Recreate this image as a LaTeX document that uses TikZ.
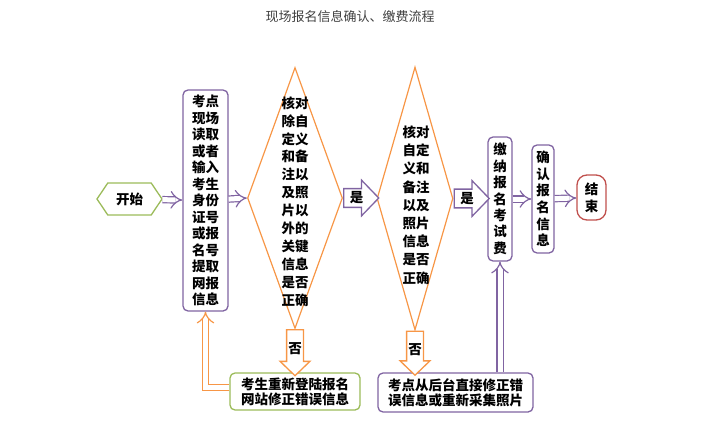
\documentclass[tikz,border=0pt]{standalone}
\usepackage{fontspec}
\newfontfamily\cjk{Noto Sans CJK SC}
\usetikzlibrary{shapes.geometric,shapes.arrows,shapes.symbols,arrows.meta}
\definecolor{boxpurple}{HTML}{8064A2}
\definecolor{boxorange}{HTML}{F79646}
\definecolor{boxgreen}{HTML}{9BBB59}
\definecolor{boxred}{HTML}{C0504D}
\definecolor{titlegray}{HTML}{404040}
\tikzset{
  rows/.style={font=\cjk\bfseries\fontsize{13.5}{#1}\selectfont},
  word/.style={rows=16.5, align=center, inner sep=0pt},
  procbox/.style={word, draw=boxpurple, line width=1.3pt, rounded corners=5pt, fill=white},
  fixbox/.style={procbox, draw=#1},
  startbox/.style={word, draw=boxgreen, line width=1.3pt, signal, signal to=west and east,
    signal pointer angle=112, minimum width=65pt, minimum height=32pt},
  endbox/.style={word, draw=boxred, line width=1.3pt, rounded corners=10pt,
    minimum width=29pt, minimum height=45pt, rows=17},
  check/.style={draw=boxorange, line width=1.2pt, diamond, inner sep=0pt},
  yesarrow/.style={word, draw=boxpurple, line width=1.3pt, single arrow, fill=white,
    single arrow tip angle=92, single arrow head extend=8.5pt, inner sep=2.5pt,
    minimum height=35pt, anchor=tail},
  noarrow/.style={yesarrow, draw=boxorange, shape border rotate=270,
    single arrow head extend=6.5pt, inner sep=1pt, minimum height=46pt},
  dbl/.style={draw=#1, line width=1.2pt, double=white, double distance=5pt, -{Implies[scale=1.5]}},
}
\begin{document}
\begin{tikzpicture}[x=1pt,y=-1pt]
    \useasboundingbox (0,0) rectangle (725,441);
    \node[font=\cjk\fontsize{13}{15}\selectfont, text=titlegray] (title) at (350,17) {现场报名信息确认、缴费流程};

    % main row
    \node[startbox] (start) at (129.5,199) {开始};
    \node[procbox, minimum width=45pt, minimum height=221pt] (read) at (205.5,200.5)
        {考点\\现场\\读取\\或者\\输入\\考生\\身份\\证号\\或报\\名号\\提取\\网报\\信息};
    \node[check, minimum width=95pt, minimum height=261pt] (q1) at (295,198) {};
    \node[word, rows=17.9] (q1text) at (295,201.5)
        {核对\\除自\\定义\\和备\\注以\\及照\\片以\\外的\\关键\\信息\\是否\\正确};
    \node[check, minimum width=76pt, minimum height=263pt] (q2) at (415,198.5) {};
    \node[word, rows=18.2] (q2text) at (416,205)
        {核对\\自定\\义和\\备注\\以及\\照片\\信息\\是否\\正确};
    \node[procbox, minimum width=24pt, minimum height=124pt, rows=16.4] (pay) at (500,199)
        {缴\\纳\\报\\名\\考\\试\\费};
    \node[procbox, minimum width=22pt, minimum height=108pt, rows=16.6] (confirm) at (543,199)
        {确\\认\\报\\名\\信\\息};
    \node[endbox] (finish) at (591.5,197.5) {结\\束};

    % correction boxes
    \node[fixbox=boxgreen, minimum width=130pt, minimum height=37pt, rows=15] (relog) at (295,391.5)
        {考生重新登陆报名\\网站修正错误信息};
    \node[fixbox=boxpurple, minimum width=155pt, minimum height=39pt, rows=15] (fix) at (455.5,392.5)
        {考点从后台直接修正错\\误信息或重新采集照片};

    % yes / no
    \node[yesarrow] (yes1) at (q1.east) {是};
    \node[yesarrow] (yes2) at (q2.east) {是};
    \node[noarrow] (no1) at (q1.south) {否};
    \node[noarrow, minimum height=44pt] (no2) at (q2.south) {否};

    % connectors
    \draw[dbl=boxpurple] (start) -- (read);
    \draw[dbl=boxpurple] (read) -- (q1.west);
    \draw[dbl=boxpurple] (pay) -- (confirm);
    \draw[dbl=boxpurple] (confirm) -- (finish);
    \draw[dbl=boxpurple] (pay.south |- fix.north) -- (pay.south);
    \draw[dbl=boxorange] ([yshift=4pt]relog.west) -| (read.south);
\end{tikzpicture}
\end{document}
